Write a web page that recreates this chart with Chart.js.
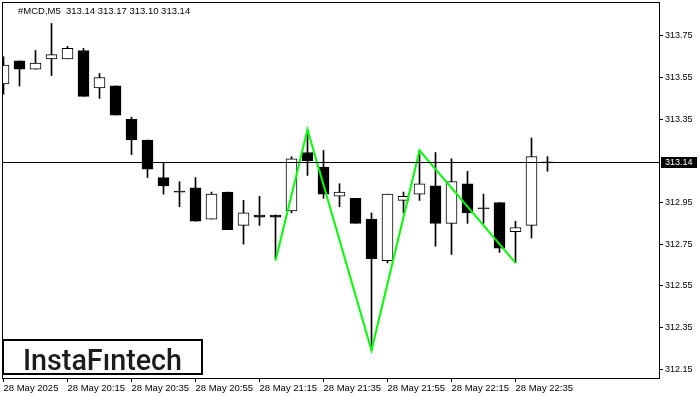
<!DOCTYPE html>
<html>
<head>
<meta charset="utf-8">
<script src="https://cdn.jsdelivr.net/npm/chart.js@4.4.1/dist/chart.umd.min.js"></script>
<style>
html, body { margin: 0; padding: 0; background: #fff; }
#wrap { width: 700px; height: 400px; }
</style>
</head>
<body>
<div id="wrap"><canvas id="chart"></canvas></div>
<script>
// Chart data (MCD, M5, 28 May 2025 from 19:55)
const symbol = '#MCD,M5';
const opens  = [313.52, 313.63, 313.59, 313.64, 313.64, 313.68, 313.50, 313.51, 313.35, 313.25,
                313.07, 313.00, 313.02, 312.87, 313.00, 312.84, 312.89, 312.89, 312.91, 313.19,
                313.12, 312.98, 312.97, 312.87, 312.67, 312.96, 312.99, 313.03, 312.85, 313.04,
                312.92, 312.95, 312.81, 312.84, 313.14];
const highs  = [313.65, 313.63, 313.68, 313.81, 313.70, 313.69, 313.57, 313.51, 313.36, 313.25,
                313.14, 313.05, 313.07, 313.00, 313.00, 312.96, 312.98, 312.89, 313.17, 313.30,
                313.20, 313.04, 312.97, 312.90, 312.99, 313.00, 313.20, 313.19, 313.16, 313.10,
                312.99, 312.95, 312.86, 313.26, 313.17];
const lows   = [313.47, 313.51, 313.59, 313.56, 313.64, 313.46, 313.45, 313.37, 313.18, 313.07,
                312.99, 312.93, 312.86, 312.87, 312.82, 312.75, 312.84, 312.68, 312.90, 313.08,
                312.97, 312.93, 312.85, 312.24, 312.66, 312.90, 312.96, 312.74, 312.70, 312.85,
                312.85, 312.71, 312.66, 312.78, 313.10];
const closes = [313.61, 313.59, 313.62, 313.66, 313.69, 313.46, 313.55, 313.37, 313.25, 313.11,
                313.03, 313.00, 312.86, 312.99, 312.82, 312.90, 312.88, 312.88, 313.16, 313.15,
                312.99, 313.00, 312.85, 312.68, 312.99, 312.98, 313.04, 312.85, 313.05, 312.90,
                312.92, 312.73, 312.83, 313.17, 313.14];

// pattern line (bar index, price)
const patternBars   = [17, 19, 23, 26, 32];
const patternPrices = [312.67, 313.30, 312.24, 313.20, 312.66];

// axis ticks
const priceTicks = [313.75, 313.55, 313.35, 312.95, 312.75, 312.55, 312.35, 312.15];
const timeTickBars = [0, 4, 8, 12, 16, 20, 24, 28, 32];
const timeTickLabels = ['28 May 2025', '28 May 20:15', '28 May 20:35', '28 May 20:55', '28 May 21:15',
                        '28 May 21:35', '28 May 21:55', '28 May 22:15', '28 May 22:35'];

const last = opens.length - 1;
const idx = opens.map((_, i) => i);
const bodies = idx.map(i => ({ x: i, y: [opens[i], closes[i]] }));
const wicks = idx.map(i => ({ x: i, y: [lows[i], highs[i]] }));
// up candles hollow, down candles and dojis solid
const bodyColors = idx.map(i => closes[i] > opens[i] ? '#ffffff' : '#000000');
const pattern = patternBars.map((b, i) => ({ x: b, y: patternPrices[i] }));

const axisFont = { family: 'Liberation Sans', size: 9.5 };

// Bid line, frame, title, logo, price label
const mt4Plugin = {
    id: 'mt4',
    afterDatasetsDraw(chart) {
        const { ctx, chartArea: a, scales } = chart;
        const y = Math.floor(scales.y.getPixelForValue(closes[last])) + 0.5;
        ctx.save();
        ctx.strokeStyle = '#000';
        ctx.lineWidth = 1;
        ctx.beginPath();
        ctx.moveTo(a.left, y);
        ctx.lineTo(a.right, y);
        ctx.stroke();
        ctx.restore();
    },
    afterDraw(chart) {
        const { ctx, chartArea: a, scales } = chart;
        ctx.save();

        // frame
        ctx.strokeStyle = '#000';
        ctx.lineWidth = 1;
        ctx.strokeRect(a.left + 0.5, a.top + 0.5, a.right - a.left, a.bottom - a.top);

        // title
        ctx.fillStyle = '#000';
        ctx.font = '9.5px "Liberation Sans"';
        ctx.textBaseline = 'middle';
        ctx.textAlign = 'left';
        const title = symbol + '  ' + [opens[last], highs[last], lows[last], closes[last]].map(v => v.toFixed(2)).join(' ');
        ctx.fillText(title, 18, 11);

        // current price label
        const py = Math.floor(scales.y.getPixelForValue(closes[last])) + 0.5;
        ctx.fillStyle = '#000';
        ctx.fillRect(661, py - 5.5, 36, 11);
        ctx.fillStyle = '#fff';
        ctx.font = '9px "Liberation Sans"';
        ctx.fillText(closes[last].toFixed(2), 665, py + 0.5);

        // logo
        ctx.fillStyle = '#fff';
        ctx.fillRect(3, 340, 199, 34);
        ctx.lineWidth = 2;
        ctx.strokeRect(3, 340, 199, 34);
        const logo = 'InstaF\u0131ntech';
        ctx.font = '500 100px Roboto';
        const size = 100 * 159 / ctx.measureText(logo).width;
        ctx.font = '500 ' + size.toFixed(1) + 'px Roboto';
        ctx.fillStyle = '#1c1c1c';
        ctx.textBaseline = 'alphabetic';
        ctx.fillText(logo, 23, 369.5);

        ctx.restore();
    }
};

new Chart(document.getElementById('chart'), {
    type: 'bar',
    data: {
        datasets: [
            {
                type: 'line',
                data: pattern,
                borderColor: '#00ff00',
                borderWidth: 2,
                pointRadius: 0,
                tension: 0,
                order: -1
            },
            {
                data: bodies,
                backgroundColor: bodyColors,
                borderColor: '#000',
                borderWidth: 1,
                borderSkipped: false,
                grouped: false,
                barPercentage: 1,
                categoryPercentage: 1,
                maxBarThickness: 11,
                minBarLength: 1,
                order: 0
            },
            {
                data: wicks,
                backgroundColor: '#000',
                borderWidth: 0,
                grouped: false,
                barPercentage: 1,
                categoryPercentage: 1,
                maxBarThickness: 1,
                order: 1
            }
        ]
    },
    options: {
        responsive: true,
        maintainAspectRatio: false,
        animation: false,
        layout: { autoPadding: false, padding: { left: 2, top: 2, right: 0, bottom: 0 } },
        plugins: { legend: { display: false }, tooltip: { enabled: false } },
        scales: {
            x: {
                type: 'linear',
                min: -0.09375,
                max: 40.96875,
                offset: false,
                afterBuildTicks: s => { s.ticks = timeTickBars.map(v => ({ value: v })); },
                afterFit: s => { s.height = 22; s.paddingLeft = 0; s.paddingRight = 0; },
                ticks: {
                    align: 'start',
                    autoSkip: false,
                    maxRotation: 0,
                    padding: 1,
                    color: '#000',
                    font: axisFont,
                    callback: (v, i) => timeTickLabels[i]
                },
                grid: { drawOnChartArea: false, tickLength: 4, color: '#000', offset: false },
                border: { display: false }
            },
            y: {
                position: 'right',
                min: 312.107,
                max: 313.913,
                afterBuildTicks: s => { s.ticks = priceTicks.map(v => ({ value: v })); },
                afterFit: s => { s.width = 41; s.paddingTop = 0; s.paddingBottom = 0; },
                ticks: {
                    padding: 2,
                    color: '#000',
                    font: { family: 'Liberation Sans', size: 9 },
                    callback: v => v.toFixed(2)
                },
                grid: { drawOnChartArea: false, tickLength: 4, color: '#000' },
                border: { display: false }
            }
        }
    },
    plugins: [mt4Plugin]
});
</script>
</body>
</html>
